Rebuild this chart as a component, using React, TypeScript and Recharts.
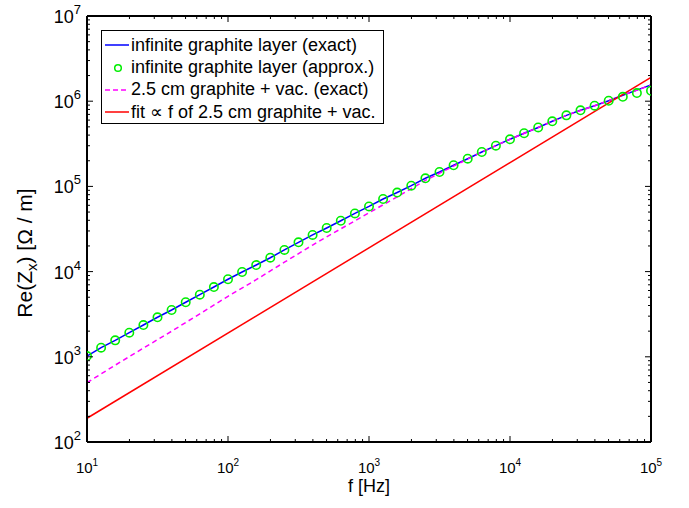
import React from 'react';
import { LineChart, Line, XAxis, YAxis, Legend, Label } from 'recharts';

// frequency grid (Hz), 0.1-decade steps
const freq = [
  10, 12.59, 15.85, 19.95, 25.12, 31.62, 39.81, 50.12, 63.1, 79.43,
  100, 125.9, 158.5, 199.5, 251.2, 316.2, 398.1, 501.2, 631.0, 794.3,
  1000, 1259, 1585, 1995, 2512, 3162, 3981, 5012, 6310, 7943,
  10000, 12590, 15850, 19950, 25120, 31620, 39810, 50120, 63100, 79430,
  100000,
];
// infinite graphite layer (exact)
const exactZ = [
  1020, 1280, 1560, 1920, 2360, 2910, 3540, 4370, 5360, 6590,
  8130, 9890, 11940, 14550, 17950, 22080, 26920, 32510, 39540, 48190,
  58210, 71120, 84720, 101900, 124500, 147600, 177000, 211300, 253500, 300600,
  357300, 420700, 492000, 580800, 682300, 781600, 885100, 1012000, 1175000, 1349000,
  1549000,
];
// infinite graphite layer (approx.)
const approxZ = [
  1020, 1280, 1560, 1920, 2360, 2910, 3540, 4370, 5360, 6590,
  8130, 9890, 11940, 14550, 17950, 22080, 26920, 32510, 39540, 48190,
  58210, 71120, 84720, 101900, 124500, 147600, 177000, 211300, 253500, 300600,
  357300, 420700, 492000, 580800, 682300, 781600, 885100, 1012000, 1127000, 1247000,
  1327000,
];
// 2.5 cm graphite + vac. (exact)
const vacFreq = [
  10, 15.85, 25.12, 39.81, 63.1, 100, 158.5, 251.2, 398.1, 631.0,
  1000, 1585, 2512, 3981, 6310, 10000, 15850, 25120, 39810, 63100, 100000,
];
const vacZ = [
  497, 798, 1265, 1995, 3192, 5129, 8035, 12880, 20510, 31770,
  48980, 75510, 117500, 173000, 253500, 357300, 492000, 682300, 885100, 1175000, 1549000,
];
// fit proportional to f
const fitFreq = [10, 100000];
const fitZ = [190, 1900000];

const xMajor = [10, 100, 1000, 10000, 100000];
const yMajor = [100, 1000, 10000, 100000, 1000000, 10000000];
const minorMult = [2, 3, 4, 5, 6, 7, 8, 9];

const seriesNames = [
  'infinite graphite layer (exact)',
  'infinite graphite layer (approx.)',
  '2.5 cm graphite + vac. (exact)',
  'fit \u221D f of 2.5 cm graphite + vac.',
];

const withMinor = (major: number[]) => {
  const out = [...major];
  major.slice(0, -1).forEach((m) => minorMult.forEach((k) => out.push(m * k)));
  return out.sort((a, b) => a - b);
};
const xTicks = withMinor(xMajor);
const yTicks = withMinor(yMajor);

const exactData = freq.map((f, i) => ({ f, v: exactZ[i] }));
const approxData = freq.map((f, i) => ({ f, v: approxZ[i] }));
const vacData = vacFreq.map((f, i) => ({ f, v: vacZ[i] }));
const fitData = fitFreq.map((f, i) => ({ f, v: fitZ[i] }));

const FONT = '"Liberation Sans", Arial, Helvetica, sans-serif';
const expOf = (v: number) => Math.round(Math.log10(v));
const MAJ = 6;
const MIN = 3;

const BottomTick = (props: any) => {
  const { x, y, payload } = props;
  const v = payload.value;
  const major = xMajor.includes(v);
  return (
    <g>
      <line x1={x} x2={x} y1={y} y2={y - (major ? MAJ : MIN)} stroke="#000" strokeWidth={1} />
      {major && (
        <text x={x} y={y + 31} textAnchor="middle" fontSize={15} fontFamily={FONT} fill="#000">
          10
          <tspan dy={-7} fontSize={10}>{expOf(v)}</tspan>
        </text>
      )}
    </g>
  );
};

const TopTick = (props: any) => {
  const { x, y, payload } = props;
  const major = xMajor.includes(payload.value);
  return <line x1={x} x2={x} y1={y} y2={y + (major ? MAJ : MIN)} stroke="#000" strokeWidth={1} />;
};

const LeftTick = (props: any) => {
  const { x, y, payload } = props;
  const v = payload.value;
  const major = yMajor.includes(v);
  return (
    <g>
      <line x1={x} x2={x + (major ? MAJ : MIN)} y1={y} y2={y} stroke="#000" strokeWidth={1} />
      {major && (
        <text x={x - 6} y={y + 7} textAnchor="end" fontSize={18} fontFamily={FONT} fill="#000">
          10
          <tspan dy={-9} fontSize={13}>{expOf(v)}</tspan>
        </text>
      )}
    </g>
  );
};

const RightTick = (props: any) => {
  const { x, y, payload } = props;
  const major = yMajor.includes(payload.value);
  return <line x1={x} x2={x - (major ? MAJ : MIN)} y1={y} y2={y} stroke="#000" strokeWidth={1} />;
};

const XTitle = (props: any) => {
  const vb = props.viewBox;
  return (
    <text x={vb.x + vb.width / 2} y={vb.y + 50} textAnchor="middle" fontSize={18} fontFamily={FONT} fill="#000">
      f [Hz]
    </text>
  );
};

const YTitle = (props: any) => {
  const vb = props.viewBox;
  const cx = vb.x + vb.width - 55;
  const cy = vb.y + vb.height / 2 + 24;
  return (
    <text
      x={cx}
      y={cy}
      transform={`rotate(-90 ${cx} ${cy})`}
      textAnchor="middle"
      fontSize={21}
      fontFamily={FONT}
      fill="#000"
    >
      Re(Z
      <tspan dy={5} fontSize={15}>x</tspan>
      <tspan dy={-5}>) [{'\u03A9'} / m]</tspan>
    </text>
  );
};

const LegendBox = () => {
  const icons = [
    <line x1={0} x2={24} y1={6} y2={6} stroke="#0000ff" strokeWidth={1.5} />,
    <circle cx={13} cy={6} r={3.3} stroke="#00ee00" strokeWidth={1.5} fill="none" />,
    <line x1={0} x2={24} y1={6} y2={6} stroke="#ff00ff" strokeWidth={1.5} strokeDasharray="5 3" />,
    <line x1={0} x2={24} y1={6} y2={6} stroke="#ff0000" strokeWidth={1.5} />,
  ];
  return (
    <div
      style={{
        width: 283,
        height: 94,
        boxSizing: 'border-box',
        border: '1.5px solid #000',
        background: '#fff',
        paddingTop: 3,
        fontFamily: FONT,
        fontSize: 18,
        color: '#000',
      }}
    >
      {seriesNames.map((name, i) => (
        <div key={name} style={{ height: 22.4, display: 'flex', alignItems: 'center', whiteSpace: 'nowrap' }}>
          <svg width={24} height={12} style={{ marginLeft: 3, marginRight: 2 }}>
            {icons[i]}
          </svg>
          <span>{name}</span>
        </div>
      ))}
    </div>
  );
};

const axisStroke = { stroke: '#000', strokeWidth: 2 };

export default function App() {
  return (
    <div style={{ position: 'absolute', left: 0, top: 0, width: 689, height: 508, background: '#fff' }}>
      <LineChart width={689} height={508} margin={{ top: 15, right: 37, bottom: 65, left: 86 }}>
        <XAxis
          dataKey="f"
          type="number"
          scale="log"
          domain={[10, 100000]}
          allowDataOverflow
          ticks={xTicks}
          interval={0}
          height={1}
          tickSize={0}
          tickMargin={0}
          tickLine={false}
          tick={<BottomTick />}
          axisLine={axisStroke}
        >
          <Label content={<XTitle />} />
        </XAxis>
        <XAxis
          xAxisId="top"
          orientation="top"
          dataKey="f"
          type="number"
          scale="log"
          domain={[10, 100000]}
          allowDataOverflow
          ticks={xTicks}
          interval={0}
          height={1}
          tickSize={0}
          tickMargin={0}
          tickLine={false}
          tick={<TopTick />}
          axisLine={axisStroke}
        />
        <YAxis
          type="number"
          scale="log"
          domain={[100, 10000000]}
          allowDataOverflow
          ticks={yTicks}
          interval={0}
          width={1}
          tickSize={0}
          tickMargin={0}
          tickLine={false}
          tick={<LeftTick />}
          axisLine={axisStroke}
        >
          <Label content={<YTitle />} />
        </YAxis>
        <YAxis
          yAxisId="right"
          orientation="right"
          type="number"
          scale="log"
          domain={[100, 10000000]}
          allowDataOverflow
          ticks={yTicks}
          interval={0}
          width={1}
          tickSize={0}
          tickMargin={0}
          tickLine={false}
          tick={<RightTick />}
          axisLine={axisStroke}
        />
        <Legend
          layout="vertical"
          align="center"
          verticalAlign="middle"
          content={<LegendBox />}
          wrapperStyle={{ left: 101, top: 30, width: 283, height: 94 }}
        />
        <Line
          data={exactData}
          dataKey="v"
          name={seriesNames[0]}
          stroke="#0000ff"
          strokeWidth={1.5}
          dot={false}
          activeDot={false}
          isAnimationActive={false}
        />
        <Line
          data={approxData}
          dataKey="v"
          name={seriesNames[1]}
          stroke="none"
          dot={{ r: 4.2, stroke: '#00ee00', strokeWidth: 1.6, fill: 'none' }}
          activeDot={false}
          isAnimationActive={false}
        />
        <Line
          data={vacData}
          dataKey="v"
          name={seriesNames[2]}
          stroke="#ff00ff"
          strokeWidth={1.5}
          strokeDasharray="5 3.5"
          dot={false}
          activeDot={false}
          isAnimationActive={false}
        />
        <Line
          data={fitData}
          dataKey="v"
          name={seriesNames[3]}
          stroke="#ff0000"
          strokeWidth={1.5}
          dot={false}
          activeDot={false}
          isAnimationActive={false}
        />
      </LineChart>
    </div>
  );
}
